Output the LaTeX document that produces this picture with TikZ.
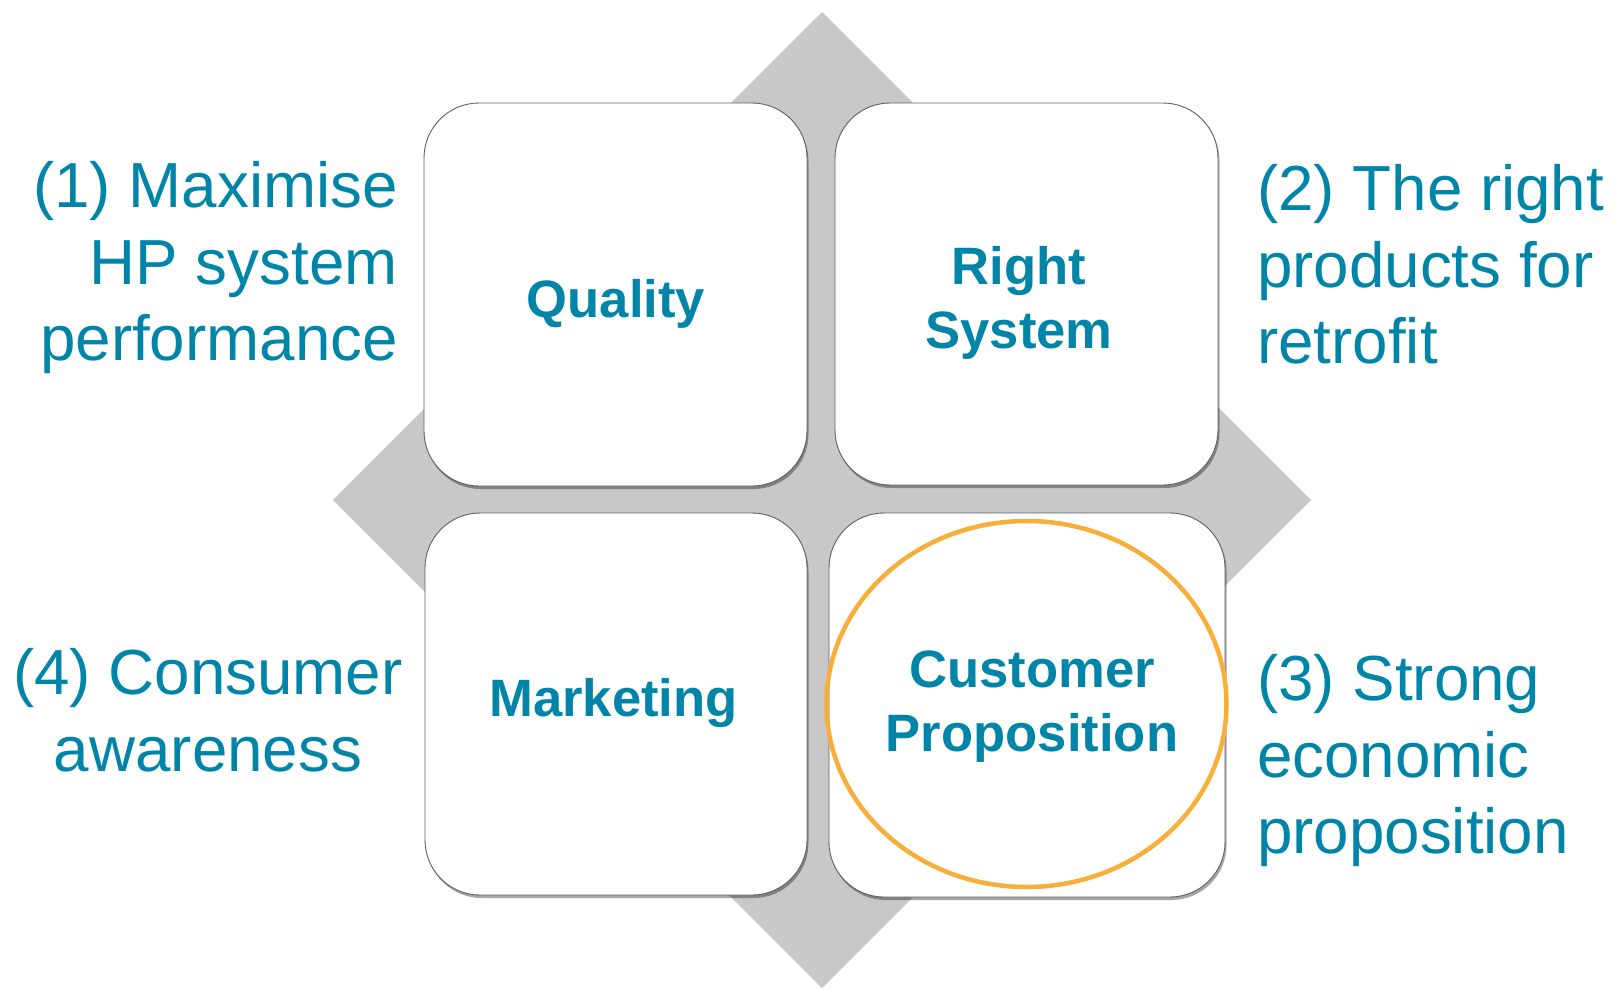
\documentclass[tikz,border=0pt]{standalone}
\usepackage{fontspec}
\setmainfont{Liberation Sans}
\usetikzlibrary{shadows,shapes.geometric}
\definecolor{labteal}{RGB}{0,133,168}
\definecolor{diagray}{RGB}{200,200,200}
\definecolor{cardedge}{RGB}{95,95,95}
\definecolor{ringorange}{RGB}{248,174,58}
\tikzset{
  card/.style={rectangle, rounded corners=55pt, fill=white, draw=cardedge, line width=0.9pt,
    drop shadow={shadow xshift=1.5pt, shadow yshift=-3pt, opacity=0.35, fill=black},
    inner sep=0pt},
  cardtext/.style={text=labteal, font=\fontsize{52.6}{64}\selectfont\bfseries, align=center, inner sep=0pt},
  sidetext/.style={text=labteal, font=\fontsize{63.7}{76.5}\selectfont, inner sep=0pt},
  ring/.style={ellipse, draw=ringorange, line width=4.5pt, inner sep=0pt}
}
\begin{document}
\begin{tikzpicture}[x=1pt,y=-1pt]
\useasboundingbox (0,0) rectangle (1617,989);
% background diamond
\fill[diagray] (822,12) -- (1311,500) -- (822,988) -- (333,500) -- cycle;
% cards
\node[card, minimum width=383pt, minimum height=383pt] (q) at (615.5,294.5) {};
\node[card, minimum width=383pt, minimum height=382pt] (r) at (1026.5,294) {};
\node[card, minimum width=382pt, minimum height=382pt] (m) at (616,704) {};
\node[card, minimum width=396pt, minimum height=384pt] (c) at (1027,705) {};
% ring
\node[ring, minimum width=400pt, minimum height=366pt] (ring) at (1026.5,704) {};
% card texts
\node[cardtext, anchor=base] (qt) at (616,317) {Quality};
\node[cardtext] (rt) at (1019,302.5) {Right\\System};
\node[cardtext, anchor=base] (mt) at (613.5,716) {Marketing};
\node[cardtext] (ct) at (1032,707) {Customer\\Proposition};
% side labels
\node[sidetext, align=right, anchor=east] (l1) at (398,268) {(1) Maximise\\HP system\\performance};
\node[sidetext, align=left, anchor=west] (l2) at (1257,264.5) {(2) The right\\products for\\retrofit};
\node[sidetext, align=left, anchor=west] (l3) at (1257,761) {(3) Strong\\economic\\proposition};
\node[sidetext, align=center] (l4) at (208,710) {(4) Consumer\\awareness};
\end{tikzpicture}
\end{document}
